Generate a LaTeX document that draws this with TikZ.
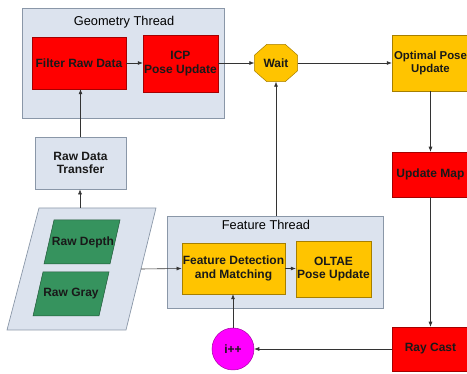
\documentclass[tikz,border=0pt]{standalone}
\usepackage{fontspec}
\setmainfont{Liberation Sans}
\usetikzlibrary{arrows.meta,calc,shapes.geometric}
\definecolor{thr}{HTML}{DCE3EE}
\definecolor{thrb}{HTML}{8A97A8}
\definecolor{red1}{HTML}{FF0000}
\definecolor{gold1}{HTML}{FFC400}
\definecolor{green1}{HTML}{36935E}
\definecolor{mag1}{HTML}{FF00FF}
\definecolor{ln}{HTML}{333333}
\begin{document}
\begin{tikzpicture}[x=1pt,y=-1pt,
  thread/.style={draw=thrb, fill=thr, line width=0.7pt},
  bf/.style={font=\fontsize{12}{13.5}\selectfont\bfseries, text=black!90},
  blk/.style={draw=#1!65!black, fill=#1, line width=0.5pt, align=center, bf, inner sep=1pt},
  ttl/.style={font=\fontsize{12.8}{14}\selectfont, text=black},
  conn/.style={draw=ln, line width=0.6pt, -{Latex[length=5pt,width=4pt]}}
]
\useasboundingbox (0,0) rectangle (467,374);

% threads
\node[thread, minimum width=202, minimum height=110] (geo) at (123,63) {};
\node[ttl] (geot) at (124,22) {Geometry Thread};
\node[thread, minimum width=216, minimum height=92] (ft) at (275,262) {};
\node[ttl] (ftt) at (266,225) {Feature Thread};

% blocks
\node[blk=red1, minimum width=94, minimum height=52] (filter) at (79,63) {Filter Raw Data};
\node[blk=red1, minimum width=75, minimum height=57] (icp) at (180.5,63.5) {ICP\\Pose Update};
\node[minimum width=43, minimum height=37, inner sep=0pt] (wait) at (276,63) {};
\filldraw[fill=gold1, draw=gold1!65!black, line width=0.5pt]
  ([xshift=12.5pt]wait.north west) -- ([xshift=-12.5pt]wait.north east)
  -- ([yshift=-11pt]wait.north east) -- ([yshift=11pt]wait.south east)
  -- ([xshift=-12.5pt]wait.south east) -- ([xshift=12.5pt]wait.south west)
  -- ([yshift=11pt]wait.south west) -- ([yshift=-11pt]wait.north west) -- cycle;
\node[bf] (waitt) at (wait) {Wait};
\node[blk=gold1, minimum width=77, minimum height=56, font=\fontsize{11.4}{13.5}\selectfont\bfseries] (opt) at (430.5,63) {Optimal Pose\\Update};
\node[blk=red1, minimum width=77, minimum height=45] (upd) at (430.5,174.5) {Update Map};
\node[blk=red1, minimum width=77, minimum height=44] (ray) at (430.5,349) {Ray Cast};
\node[blk=mag1, circle, minimum size=42] (ipp) at (233,349) {i++};
\node[blk=gold1, minimum width=103, minimum height=51] (fdm) at (233.5,268.5) {Feature Detection\\and Matching};
\node[blk=gold1, minimum width=75, minimum height=56] (oltae) at (333.5,269) {OLTAE\\Pose Update};
\node[blk=thr, draw=thrb, line width=0.7pt, minimum width=91, minimum height=52] (rdt) at (80.5,163) {Raw Data\\Transfer};

% raw data parallelogram
\filldraw[thread] (39,208) -- (156,208) -- (126,330) -- (7,330) -- cycle;
\coordinate (paratop) at (80,208);
\coordinate (pararight) at (141,269);
\filldraw[fill=green1, draw=green1!60!black, line width=0.5pt] (54,220) -- (120,220) -- (110,264) -- (44,264) -- cycle;
\filldraw[fill=green1, draw=green1!60!black, line width=0.5pt] (43,272) -- (109,272) -- (99,316) -- (33,316) -- cycle;
\node[bf] (rdep) at (83,242) {Raw Depth};
\node[bf] (rgray) at (71,294) {Raw Gray};

% connectors
\draw[conn] (filter.east) -- (icp.west |- filter.east);
\draw[conn] (icp.east |- wait.west) -- (wait.west);
\draw[conn] (wait.east) -- (opt.west |- wait.east);
\draw[conn] (opt.south) -- (upd.north);
\draw[conn] (upd.south) -- (ray.north);
\draw[conn] (ray.west) -- (ipp.east);
\draw[conn] (ipp.north) -- (ipp.north |- fdm.south);
\draw[conn] (fdm.east) -- (oltae.west |- fdm.east);
\draw[conn] (ft.north -| wait.south) -- (wait.south);
\draw[conn] (rdt.north) -- (rdt.north |- filter.south);
\draw[conn] (paratop) -- (paratop |- rdt.south);
\draw[conn] (pararight) -- (fdm.west);
\end{tikzpicture}
\end{document}
